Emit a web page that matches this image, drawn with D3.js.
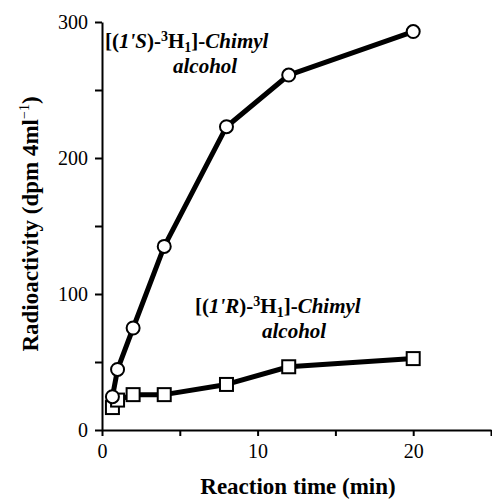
<!DOCTYPE html>
<html>
<head>
<script src="https://cdn.jsdelivr.net/npm/d3@7"></script>
<style>
body { margin: 0; background: #fff; }
svg text, svg tspan { font-family: "Liberation Serif", Tinos, serif !important; }
</style>
</head>
<body>
<script>
// reaction time (min)
var timeS = [0.67, 1, 2, 4, 8, 12, 20];
var valS  = [24.5, 44.5, 75, 135, 223, 261, 293];   // (1'S) circles
var timeR = [0.67, 1, 2, 4, 8, 12, 20];
var valR  = [16.5, 22, 26, 26, 33.5, 46.5, 52.5];   // (1'R) squares

var xTicks = [0, 5, 10, 15, 20, 25];
var xLabels = [0, 10, 20];
var yTicks = [0, 50, 100, 150, 200, 250, 300];
var yLabels = [0, 100, 200, 300];

var FONT = "Liberation Serif";
var W = 492, H = 499;
var margin = {top: 22, right: 1, bottom: 69, left: 102};

var svg = d3.select("body").append("svg")
    .attr("width", W)
    .attr("height", H)
    .attr("font-family", FONT);

var x = d3.scaleLinear().domain([0, 25]).range([margin.left, W - margin.right]);
var y = d3.scaleLinear().domain([0, 300]).range([H - margin.bottom, margin.top]);

function styleAxis(g) {
  g.attr("font-family", FONT).attr("font-size", 20);
  g.selectAll("path, line").attr("stroke", "#000").attr("stroke-width", 2);
}

// axes
svg.append("g")
    .attr("transform", "translate(0," + y(0) + ")")
    .call(d3.axisBottom(x).tickValues(xTicks).tickSize(6).tickSizeOuter(0).tickPadding(8)
      .tickFormat(function(d) { return xLabels.indexOf(d) >= 0 ? d : ""; }))
    .call(styleAxis);

svg.append("g")
    .attr("transform", "translate(" + x(0) + ",0)")
    .call(d3.axisLeft(y).tickValues(yTicks).tickSize(7).tickSizeOuter(0).tickPadding(7)
      .tickFormat(function(d) { return yLabels.indexOf(d) >= 0 ? d : ""; }))
    .call(styleAxis);

// axis titles
svg.append("text")
    .attr("x", 298).attr("y", 494)
    .attr("text-anchor", "middle")
    .style("font-size", "23px").style("font-weight", "bold")
    .text("Reaction time (min)");

var yt = svg.append("text")
    .attr("transform", "translate(38,224) rotate(-90)")
    .attr("text-anchor", "middle")
    .style("font-size", "23px").style("font-weight", "bold");
yt.append("tspan").text("Radioactivity (dpm 4ml");
yt.append("tspan").attr("dy", -9).style("font-size", "14px").style("font-weight", "normal").text("\u22121");
yt.append("tspan").attr("dy", 9).text(")");

// series lines
var line = d3.line().x(function(d) { return x(d[0]); }).y(function(d) { return y(d[1]); });
var dataS = d3.zip(timeS, valS);
var dataR = d3.zip(timeR, valR);

svg.append("path").datum(dataR).attr("d", line)
    .attr("fill", "none").attr("stroke", "#000").attr("stroke-width", 5).attr("stroke-linejoin", "round");
svg.append("path").datum(dataS).attr("d", line)
    .attr("fill", "none").attr("stroke", "#000").attr("stroke-width", 5).attr("stroke-linejoin", "round");

var sq = 13;
svg.selectAll("rect.r").data(dataR).enter().append("rect")
    .attr("class", "r")
    .attr("x", function(d) { return x(d[0]) - sq / 2; })
    .attr("y", function(d) { return y(d[1]) - sq / 2; })
    .attr("width", sq).attr("height", sq)
    .attr("fill", "#fff").attr("stroke", "#000").attr("stroke-width", 2);

svg.selectAll("circle.s").data(dataS).enter().append("circle")
    .attr("class", "s")
    .attr("cx", function(d) { return x(d[0]); })
    .attr("cy", function(d) { return y(d[1]); })
    .attr("r", 6.5)
    .attr("fill", "#fff").attr("stroke", "#000").attr("stroke-width", 2);

// labels
function label(x0, y0, letter, x1) {
  var t = svg.append("text").attr("x", x0).attr("y", y0)
      .style("font-size", "21px").style("font-weight", "bold");
  t.append("tspan").text("[(");
  t.append("tspan").style("font-style", "italic").text("1'" + letter);
  t.append("tspan").text(")-");
  t.append("tspan").attr("dy", -7).style("font-size", "14px").text("3");
  t.append("tspan").attr("dy", 7).text("H");
  t.append("tspan").attr("dy", 4).style("font-size", "14px").text("1");
  t.append("tspan").attr("dy", -4).text("]-");
  t.append("tspan").style("font-style", "italic").text("Chimyl");
  svg.append("text").attr("x", x1).attr("y", y0 + 25)
      .style("font-size", "21px").style("font-weight", "bold").style("font-style", "italic")
      .text("alcohol");
}
label(105, 48, "S", 173);
label(195, 313, "R", 262);
</script>
</body>
</html>
